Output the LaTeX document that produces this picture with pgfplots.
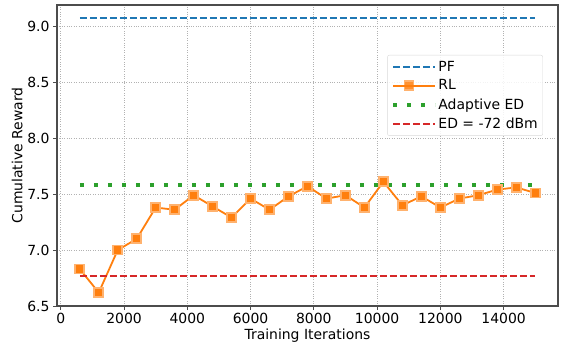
\documentclass[border=0pt]{standalone}
\usepackage{fontspec}
\setmainfont{DejaVu Sans}
\usepackage{pgfplots}
\pgfplotsset{compat=1.18}
\definecolor{tabblue}{HTML}{1F77B4}
\definecolor{taborange}{HTML}{FF7F0E}
\definecolor{tabgreen}{HTML}{2CA02C}
\definecolor{tabred}{HTML}{D62728}
\begin{document}
\begin{tikzpicture}
\begin{axis}[
  scale only axis,
  width=501bp, height=301bp,
  xmin=-120, xmax=15720, ymin=6.5, ymax=9.19,
  xtick={0,2000,...,14000},
  ytick={6.5,7.0,...,9.0},
  scaled x ticks=false,
  /pgf/number format/1000 sep={},
  /pgf/number format/assume math mode=true,
  yticklabel style={/pgf/number format/fixed, /pgf/number format/fixed zerofill, /pgf/number format/precision=1},
  tick label style={font=\fontsize{14}{16}\selectfont},
  label style={font=\fontsize{14}{16}\selectfont},
  xlabel={Training Iterations},
  ylabel={Cumulative Reward},
  xlabel style={yshift=2bp},
  ylabel style={yshift=-2bp},
  tick align=outside, tick pos=left,
  major tick length=4bp,
  every tick/.style={black!70, line width=0.8bp},
  axis line style={black!70, line width=1.2bp},
  grid=major,
  major grid style={gray!60, dotted, line width=0.8bp},
  legend cell align=left,
  legend style={at={(0.97,0.834)}, anchor=north east,
    font=\fontsize{14}{16}\selectfont,
    nodes={inner sep=1bp},
    draw=gray!30, rounded corners=2bp, fill=white, fill opacity=0.85, text opacity=1,
    row sep=5bp, inner xsep=4bp, inner ysep=5bp},
  legend image code/.code={
    \draw[#1] (0cm,0cm) -- (31bp,0cm);
    \draw[#1, mark repeat=1] plot coordinates {(15.5bp,0cm)};
    \path (0bp,0bp) -- (42bp,0bp);
  },
]
  % PF
  \addplot[tabblue, line width=2bp, dash pattern=on 7bp off 3bp]
    coordinates {(600,9.07) (15000,9.07)};
  % RL
  \addplot[taborange, line width=1.8bp, mark=square*, mark size=4.5bp,
    mark options={solid, fill=taborange, draw=taborange!60}]
    coordinates {
      (600,6.83) (1200,6.62) (1800,7.00) (2400,7.10) (3000,7.38)
      (3600,7.36) (4200,7.49) (4800,7.39) (5400,7.29) (6000,7.46)
      (6600,7.36) (7200,7.48) (7800,7.57) (8400,7.46) (9000,7.49)
      (9600,7.38) (10200,7.61) (10800,7.40) (11400,7.48) (12000,7.38)
      (12600,7.46) (13200,7.49) (13800,7.54) (14400,7.56) (15000,7.51)
    };
  % Adaptive ED
  \addplot[tabgreen, line width=4bp, dash pattern=on 4bp off 10bp]
    coordinates {(600,7.58) (15000,7.58)};
  % ED = -72 dBm
  \addplot[tabred, line width=2bp, dash pattern=on 7bp off 3bp]
    coordinates {(600,6.77) (15000,6.77)};
  \legend{PF, RL, Adaptive ED, ED = -72 dBm}
\end{axis}
\path ([xshift=-57bp,yshift=-43bp]current axis.south west) rectangle ([xshift=4bp,yshift=5bp]current axis.north east);
\end{tikzpicture}
\end{document}
